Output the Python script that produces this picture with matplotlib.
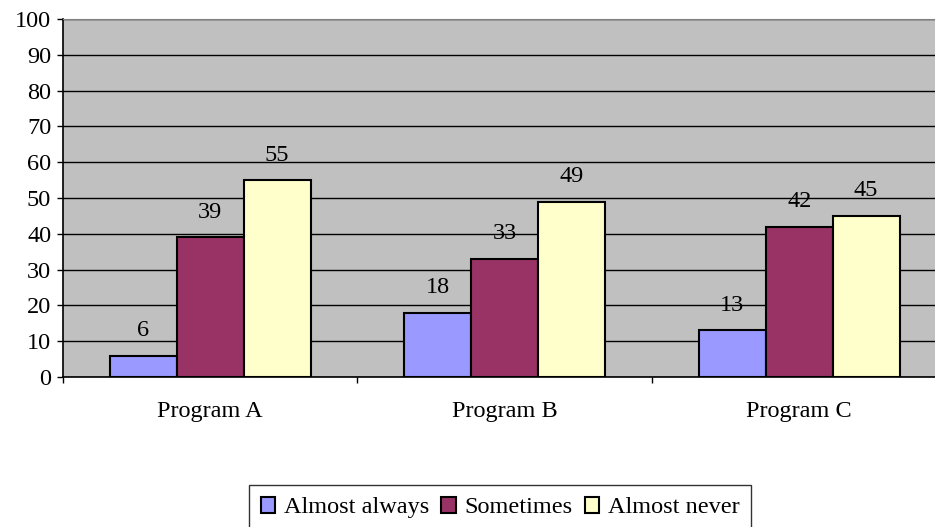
import numpy as np
import matplotlib.pyplot as plt
from matplotlib.ticker import FixedLocator

# survey responses per program
programs = ['Program A', 'Program B', 'Program C']
series_names = ['Almost always', 'Sometimes', 'Almost never']
almost_always = [6, 18, 13]
sometimes = [39, 33, 42]
almost_never = [55, 49, 45]

colors = ['#9999ff', '#993366', '#ffffcc']

plt.rcParams['font.family'] = ['Liberation Serif', 'DejaVu Serif']
FS = 17.5

fig = plt.figure(figsize=(9.35, 5.27), dpi=100)
# plot area runs a little past the right edge of the canvas
ax = fig.add_axes([63 / 935, 1 - 377 / 527, 883.5 / 935, (377 - 19) / 527])
ax.set_facecolor('#c0c0c0')

x = np.arange(len(programs))
width = 0.227
offsets = [-width, 0, width]
for vals, off, col, name in zip([almost_always, sometimes, almost_never],
                                offsets, colors, series_names):
    bars = ax.bar(x + off, vals, width, color=col, edgecolor='black',
                  linewidth=1.5, label=name, zorder=3)
    for b, v in zip(bars, vals):
        ax.annotate(str(v), (b.get_x() + b.get_width() / 2, v),
                    xytext=(0, 14), textcoords='offset points',
                    ha='center', va='baseline', fontsize=FS, zorder=4)

ax.set_xlim(-0.5, len(programs) - 0.5)
ax.set_ylim(0, 100)
ax.set_yticks(np.arange(0, 101, 10))
ax.yaxis.grid(True, color='black', linewidth=1.0, zorder=1)
ax.set_axisbelow(True)

ax.set_xticks(x)
ax.set_xticklabels(programs, fontsize=FS)
ax.tick_params(axis='x', which='major', length=0, pad=17)
ax.xaxis.set_minor_locator(FixedLocator(np.arange(-0.5, len(programs), 1.0)))
ax.tick_params(axis='x', which='minor', length=4, width=1, direction='out')
ax.tick_params(axis='y', length=4, width=1, direction='out', pad=4.5, labelsize=FS)

ax.spines['top'].set_color('#808080')
ax.spines['right'].set_visible(False)
ax.spines['left'].set_linewidth(1.2)
ax.spines['bottom'].set_linewidth(1.2)

leg = fig.legend(loc='upper center', bbox_to_anchor=(500 / 935, 1 - 485 / 527),
                 borderaxespad=0, ncol=3, fontsize=FS, frameon=True,
                 fancybox=False, edgecolor='black', handlelength=0.6,
                 handleheight=0.6, handletextpad=0.35, columnspacing=0.5,
                 borderpad=0.5)
leg.get_frame().set_linewidth(1.0)
for h in leg.legend_handles:
    h.set_linewidth(1.5)

fig.savefig('out.png', dpi=100)
